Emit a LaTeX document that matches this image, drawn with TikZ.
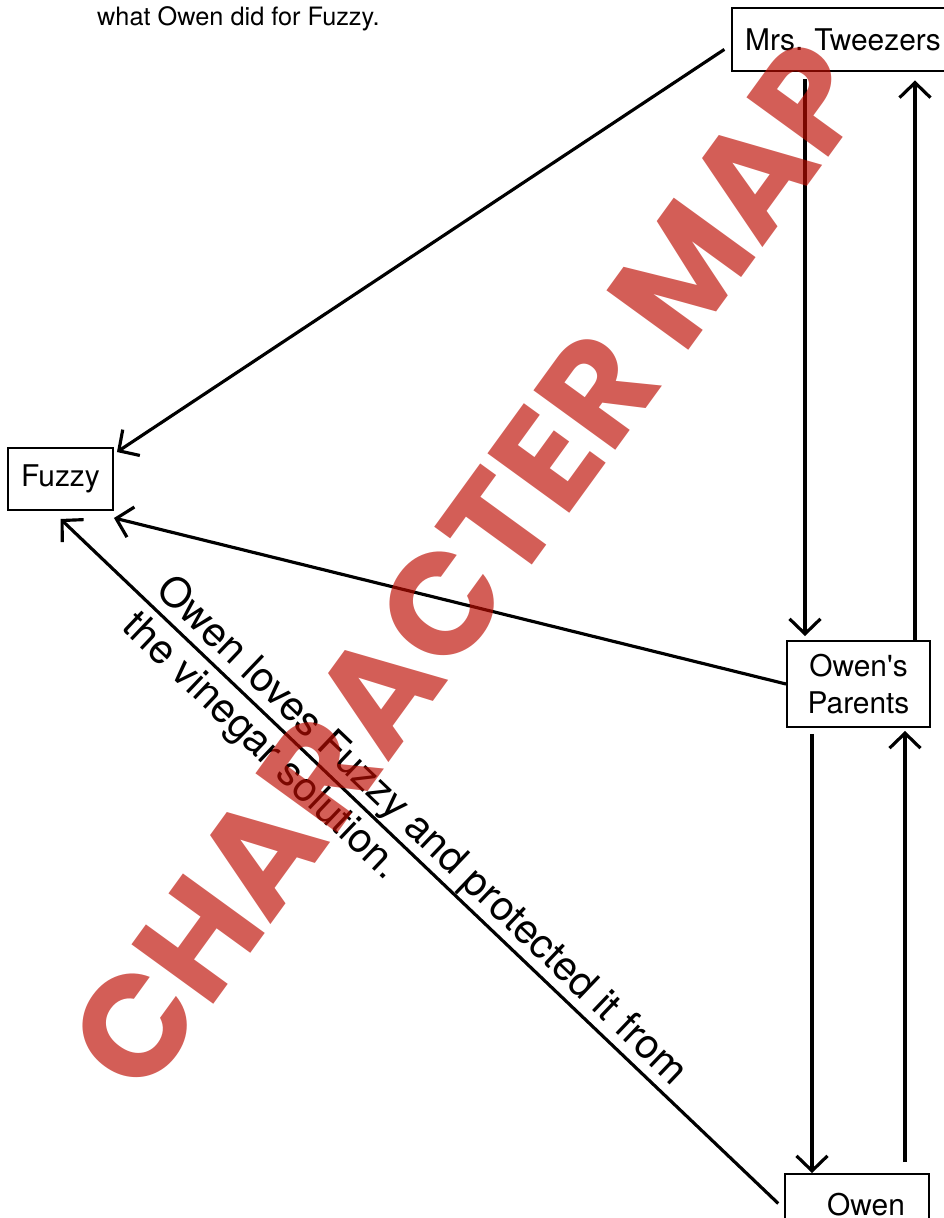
\documentclass[tikz,border=0pt]{standalone}
\usepackage{fontspec}
\setmainfont{TeX Gyre Heros}
\newfontfamily\stampfont{Poppins}
\usepackage{xcolor}
\usetikzlibrary{arrows.meta}

\definecolor{stampred}{RGB}{188,11,0}
\tikzset{
    box/.style={draw, line width=1.1pt, inner sep=0pt, align=center, font=\fontsize{17}{21}\selectfont},
    link/.style={line width=1.8pt, >={Straight Barb[length=0.3cm,width=0.62cm]}},
}

\begin{document}
\begin{tikzpicture}
                \useasboundingbox (0,0) rectangle (18.88,-24.36);
                \node[anchor=base west, font=\fontsize{14.4}{17}\selectfont] at (1.82,-0.5) (cap) {what Owen did for Fuzzy.};
                \node[box, minimum width=4.44cm, minimum height=1.26cm] at (16.86,-0.79) (tw) {Mrs. Tweezers};
                \node[box, minimum width=2.1cm, minimum height=1.24cm] at (1.21,-9.58) (fz) {Fuzzy};
                \node[box, minimum width=2.86cm, minimum height=1.72cm] at (17.17,-13.68) (op) {Owen\textquotesingle s\\Parents};
                \node[box, minimum width=2.88cm, minimum height=1.24cm] at (17.14,-24.1) (ow) {\hspace{0.36cm}Owen};
                \path[link, ->]
                    ([yshift=-0.11cm]tw.west) edge [shorten <=0.16cm] ([shift={(0.06cm,-0.1cm)}]fz.north east)
                    ([xshift=-0.76cm]tw.south) edge [shorten <=0.14cm, shorten >=0.08cm] ([xshift=-0.76cm]tw.south |- op.north)
                    ([xshift=1.13cm]op.north) edge [shorten >=0.17cm] ([xshift=1.13cm]op.north |- tw.south)
                    (op.west) edge ([yshift=-0.14cm]fz.south east)
                    ([xshift=-0.93cm]op.south) edge [shorten <=0.12cm] ([xshift=-0.93cm]op.south |- ow.north)
                    ([xshift=0.96cm]ow.north) edge [shorten <=0.22cm, shorten >=0.06cm] ([xshift=0.96cm]ow.north |- op.south)
                    ([yshift=-0.08cm]ow.west) edge [shorten <=0.16cm] node[sloped, pos=0.513, align=left, xshift=-0.2cm, yshift=-0.05cm, font=\fontsize{23.3}{28}\selectfont] {Owen loves Fuzzy and protected it from\\the vinegar solution.} ([yshift=-0.16cm]fz.south);
                % watermark over the map
                \node[rotate=54, text=stampred, opacity=0.66, font=\stampfont\bfseries\fontsize{82}{82}\selectfont] at (9.38,-11.32) (stamp) {CHARACTER MAP};
            \end{tikzpicture}
\end{document}
